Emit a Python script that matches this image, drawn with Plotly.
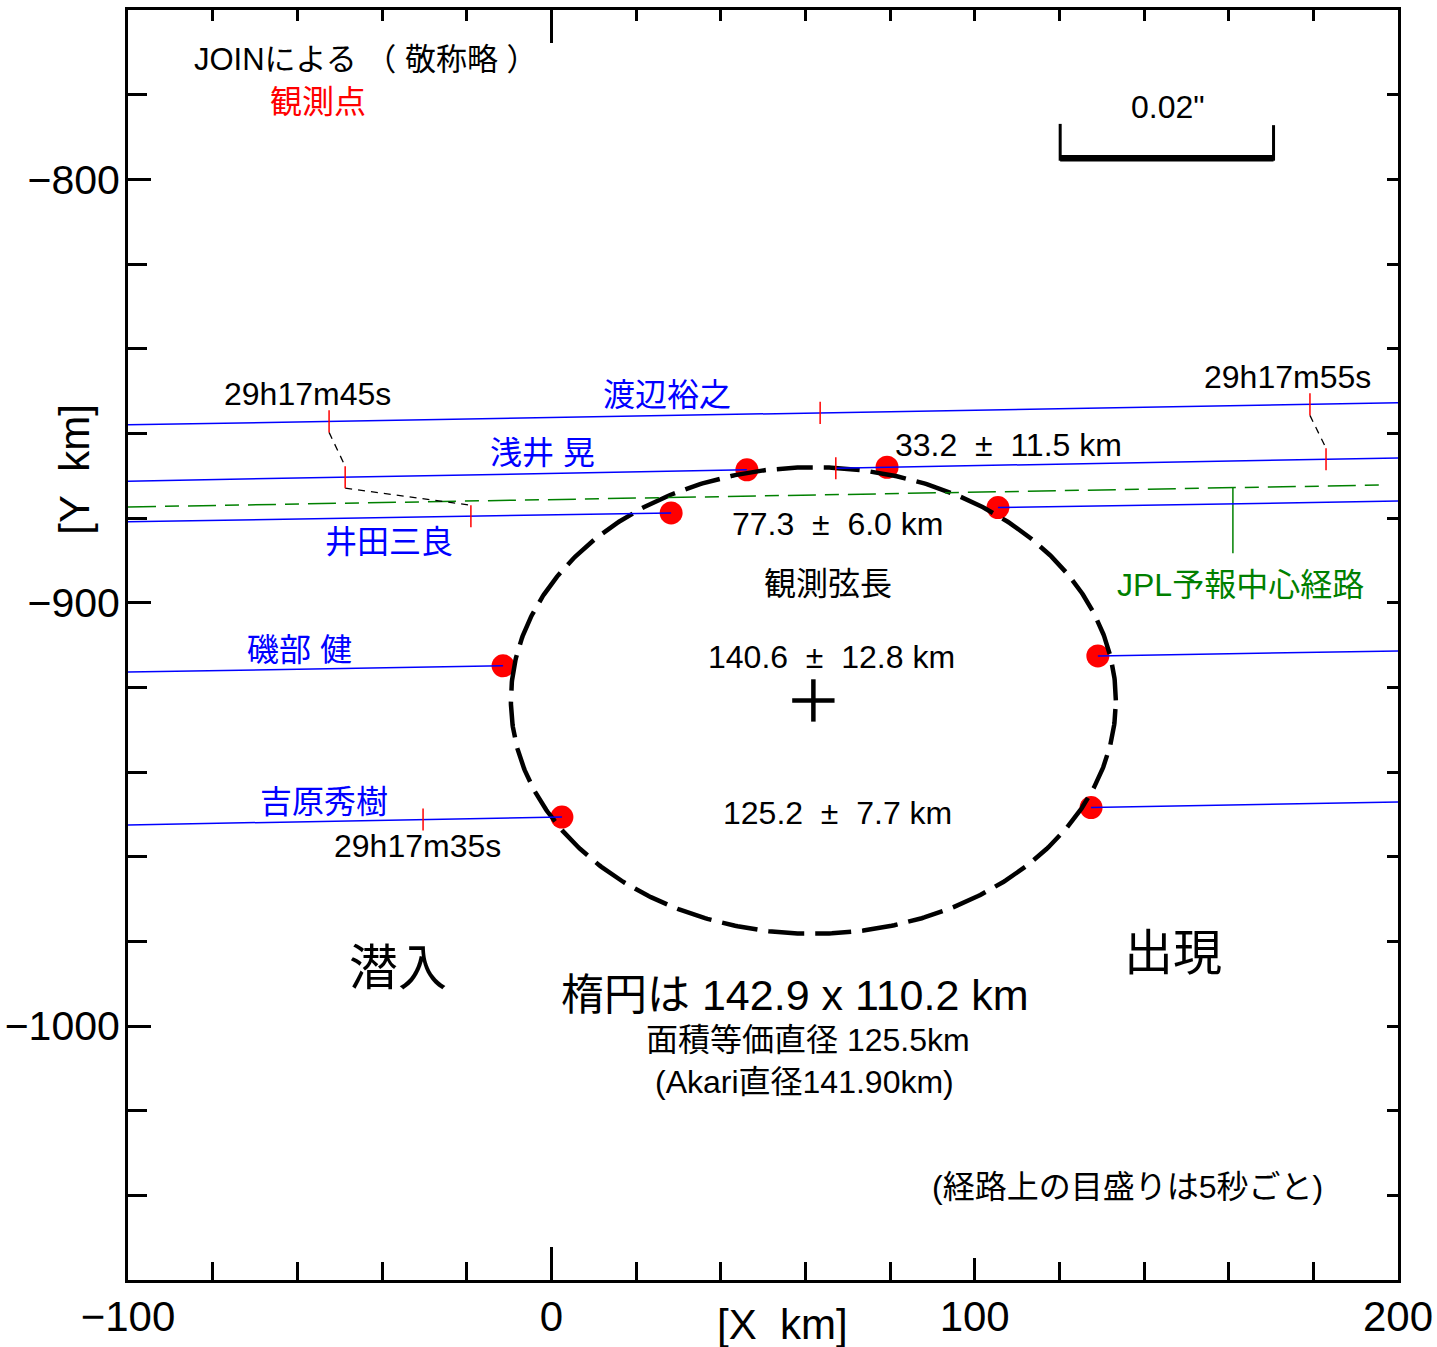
import numpy as np
import plotly.graph_objects as go

# ---------------- data ----------------
observers = ["渡辺裕之", "浅井 晃", "井田三良", "磯部 健", "吉原秀樹"]
chord_y_left = [-858.0, -871.3, -880.9, -916.4, -952.5]    # chord y at x = -100
chord_y_right = [-852.8, -865.8, -876.0, -911.4, -947.1]   # chord y at x = 200
gap_start = [None, 46.2, 28.3, -11.4, 2.5]                 # blue line hidden from ...
gap_end = [None, 67.2, 105.5, 129.1, 127.5]                # ... to
disap_x = [None, 46.2, 28.3, -11.4, 2.5]                   # disappearance (red dot)
reap_x = [None, 79.3, 105.5, 129.1, 127.5]                 # reappearance (red dot)

tick_obs = [0, 0, 0, 1, 1, 1, 2, 4]                        # 5-second ticks on the chords
tick_x = [-52.5, 63.5, 179.2, -48.7, 67.2, 183.0, -19.0, -30.3]
connect_pairs = [(0, 3), (3, 6), (2, 5)]                   # same-instant ticks joined
tick_half = 2.6

time_labels = ["29h17m45s", "29h17m55s", "29h17m35s"]
chord_lengths = ["33.2  ±  11.5 km", "77.3  ±  6.0 km", "140.6  ±  12.8 km", "125.2  ±  7.7 km"]

jpl_x = [-100.0, 197.3]
jpl_y = [-877.4, -872.2]
jpl_marker_x = 161.0
jpl_marker_y_end = -888.3

ell_center = (61.9, -923.1)
ell_axes = (142.9, 110.2)
cross_half = 5.0

scalebar_x0 = 120.2
scalebar_km = 50.4
scalebar_y = -795.0
scalebar_tick_top = -786.9

X_RANGE = [-100, 200]
Y_RANGE = [-1060, -760]

FONT = "Liberation Sans, Arial, Noto Sans CJK JP, sans-serif"
BLUE = "#0000ff"
RED = "#ff0000"
GREEN = "#008000"


def chord_y(i, x):
    return np.interp(x, [-100, 200], [chord_y_left[i], chord_y_right[i]])


fig = go.Figure()

# red event dots
dx, dy = [], []
for i in range(len(observers)):
    for ex in (disap_x[i], reap_x[i]):
        if ex is not None:
            dx.append(ex)
            dy.append(float(chord_y(i, ex)))
fig.add_trace(go.Scatter(x=dx, y=dy, mode="markers",
                         marker=dict(color=RED, size=23, line=dict(width=0)),
                         hoverinfo="skip", showlegend=False))

# ellipse
t = np.linspace(0, 2 * np.pi, 721)
ex_ = ell_center[0] + ell_axes[0] / 2 * np.cos(t)
ey_ = ell_center[1] + ell_axes[1] / 2 * np.sin(t)
fig.add_trace(go.Scatter(x=ex_, y=ey_, mode="lines",
                         line=dict(color="black", width=4.5, dash="36px,11px"),
                         hoverinfo="skip", showlegend=False))

# centre cross
fig.add_trace(go.Scatter(x=[ell_center[0] - cross_half, ell_center[0] + cross_half, None,
                            ell_center[0], ell_center[0]],
                         y=[ell_center[1], ell_center[1], None,
                            ell_center[1] - cross_half, ell_center[1] + cross_half],
                         mode="lines", line=dict(color="black", width=4.5),
                         hoverinfo="skip", showlegend=False))

# JPL predicted central path
fig.add_trace(go.Scatter(x=jpl_x, y=jpl_y, mode="lines",
                         line=dict(color=GREEN, width=1.5, dash="28px,9px,14px,9px"),
                         hoverinfo="skip", showlegend=False))
jm_y0 = float(np.interp(jpl_marker_x, jpl_x, jpl_y))
fig.add_trace(go.Scatter(x=[jpl_marker_x, jpl_marker_x], y=[jm_y0, jpl_marker_y_end],
                         mode="lines", line=dict(color=GREEN, width=1.5),
                         hoverinfo="skip", showlegend=False))

# blue chords
for i in range(len(observers)):
    if gap_start[i] is None:
        xs = [-100, 200]
    else:
        xs = [-100, gap_start[i], None, gap_end[i], 200]
    ys = [None if x is None else float(chord_y(i, x)) for x in xs]
    fig.add_trace(go.Scatter(x=xs, y=ys, mode="lines",
                             line=dict(color=BLUE, width=1.5),
                             hoverinfo="skip", showlegend=False))

# black dashed connectors between ticks
cx, cy = [], []
for a, b in connect_pairs:
    ya = float(chord_y(tick_obs[a], tick_x[a])) - tick_half
    yb = float(chord_y(tick_obs[b], tick_x[b])) + tick_half
    cx += [tick_x[a], tick_x[b], None]
    cy += [ya, yb, None]
fig.add_trace(go.Scatter(x=cx, y=cy, mode="lines",
                         line=dict(color="black", width=1.3, dash="7px,6px"),
                         hoverinfo="skip", showlegend=False))

# red time ticks
tx, ty = [], []
for o, x in zip(tick_obs, tick_x):
    yc = float(chord_y(o, x))
    tx += [x, x, None]
    ty += [yc - tick_half, yc + tick_half, None]
fig.add_trace(go.Scatter(x=tx, y=ty, mode="lines",
                         line=dict(color=RED, width=1.5),
                         hoverinfo="skip", showlegend=False))

# scale bar
fig.add_trace(go.Scatter(x=[scalebar_x0, scalebar_x0 + scalebar_km],
                         y=[scalebar_y, scalebar_y], mode="lines",
                         line=dict(color="black", width=6.5),
                         hoverinfo="skip", showlegend=False))
fig.add_trace(go.Scatter(x=[scalebar_x0, scalebar_x0, None,
                            scalebar_x0 + scalebar_km, scalebar_x0 + scalebar_km],
                         y=[scalebar_tick_top, scalebar_y - 0.6, None,
                            scalebar_tick_top - 0.3, scalebar_y - 0.6],
                         mode="lines", line=dict(color="black", width=3),
                         hoverinfo="skip", showlegend=False))

# dummy traces for the extra tick axes
for xa, ya in (("x2", "y"), ("x3", "y"), ("x4", "y"), ("x", "y2")):
    fig.add_trace(go.Scatter(x=[None], y=[None], xaxis=xa, yaxis=ya,
                             hoverinfo="skip", showlegend=False))

# ---------------- annotations ----------------
def ann(x, y, text, size=32, color="black", **kw):
    fig.add_annotation(x=x, y=y, text=text, showarrow=False,
                       font=dict(family=FONT, size=size, color=color),
                       xanchor="center", yanchor="middle", **kw)

nb = lambda s: s.replace(" ", "\u00a0")

ann(-43.8, -771.8, nb("JOINによる （ 敬称略 ）"), 31)
ann(-55.1, -781.7, "観測点", 32, RED)
ann(145.7, -782.9, '0.02"', 32)

ann(-57.7, -850.7, time_labels[0], 32)
ann(173.8, -846.7, time_labels[1], 32)
ann(-31.5, -957.5, time_labels[2], 32)

name_pos = [(27.3, -850.9), (-2.0, -864.6), (-38.3, -885.7), (-59.4, -911.2), (-53.7, -947.1)]
for n, (x, y) in zip(observers, name_pos):
    ann(x, y, nb(n), 32, BLUE)

len_pos = [(107.9, -862.8), (67.7, -881.4), (66.1, -912.8), (67.7, -949.7)]
for s, (x, y) in zip(chord_lengths, len_pos):
    ann(x, y, nb(s), 32)
ann(65.4, -895.6, "観測弦長", 32)

ann(162.7, -895.8, "JPL予報中心経路", 32, GREEN)
ann(-36.2, -986.3, "潜入", 49)
ann(146.9, -982.8, "出現", 49)
ann(57.6, -992.7, nb("楕円は 142.9 x 110.2 km"), 43)
ann(60.6, -1003.3, nb("面積等価直径 125.5km"), 32)
ann(59.9, -1013.2, "(Akari直径141.90km)", 32)
ann(136.0, -1038.0, "(経路上の目盛りは5秒ごと)", 32)

# axis titles
fig.add_annotation(x=0.515, y=-0.0354, xref="paper", yref="paper", text=nb("[X  km]"),
                   showarrow=False, font=dict(family=FONT, size=42, color="black"),
                   xanchor="center", yanchor="middle")
fig.add_annotation(x=-0.0417, y=0.638, xref="paper", yref="paper", text=nb("[Y  km]"),
                   showarrow=False, textangle=-90,
                   font=dict(family=FONT, size=42, color="black"),
                   xanchor="center", yanchor="middle")

# ---------------- layout ----------------
common = dict(showgrid=False, zeroline=False, tickcolor="black", tickwidth=2.5,
              automargin=False)
fig.update_layout(
    width=1437, height=1347,
    margin=dict(l=128, r=39, t=10, b=67, pad=0, autoexpand=False),
    paper_bgcolor="white", plot_bgcolor="white",
    showlegend=False,
    font=dict(family=FONT, color="black"),
    xaxis=dict(range=X_RANGE, side="bottom", showline=True, linewidth=3, linecolor="black",
               mirror=True, ticks="inside", tickmode="array", tickvals=[-100, 0, 100, 200],
               ticklen=22, tickfont=dict(size=42, family=FONT, color="black"),
               ticklabelstandoff=-2,
               minor=dict(ticks="inside", dtick=20, tick0=0, ticklen=18, tickwidth=2.5,
                          tickcolor="black"),
               **common),
    xaxis2=dict(range=X_RANGE, overlaying="x", side="top", anchor="y", showline=False,
                ticks="inside", tickmode="array",
                tickvals=list(range(-80, 200, 20)), ticklen=11,
                showticklabels=False, **common),
    xaxis3=dict(range=X_RANGE, overlaying="x", side="bottom", anchor="y", showline=False,
                ticks="inside", tickmode="array", tickvals=[0], ticklen=33,
                showticklabels=False, **common),
    xaxis4=dict(range=X_RANGE, overlaying="x", side="top", anchor="y", showline=False,
                ticks="inside", tickmode="array", tickvals=[0], ticklen=33,
                showticklabels=False, **common),
    yaxis=dict(range=Y_RANGE, side="left", showline=True, linewidth=3, linecolor="black",
               mirror=True, ticks="inside", tickmode="array", tickvals=[-1000, -900, -800],
               ticklen=23, tickfont=dict(size=41, family=FONT, color="black"),
               ticklabelstandoff=-3,
               minor=dict(ticks="inside", dtick=20, tick0=-1000, ticklen=19, tickwidth=2.5,
                          tickcolor="black"),
               **common),
    yaxis2=dict(range=Y_RANGE, overlaying="y", side="right", anchor="x", showline=False,
                ticks="inside", tickmode="array",
                tickvals=list(range(-1040, -760, 20)), ticklen=11,
                showticklabels=False, **common),
)

fig.write_html("out.html", config={"displayModeBar": False},
               post_script="document.body.style.margin='0';document.body.style.padding='0';"
                           "document.documentElement.style.overflow='hidden';")
